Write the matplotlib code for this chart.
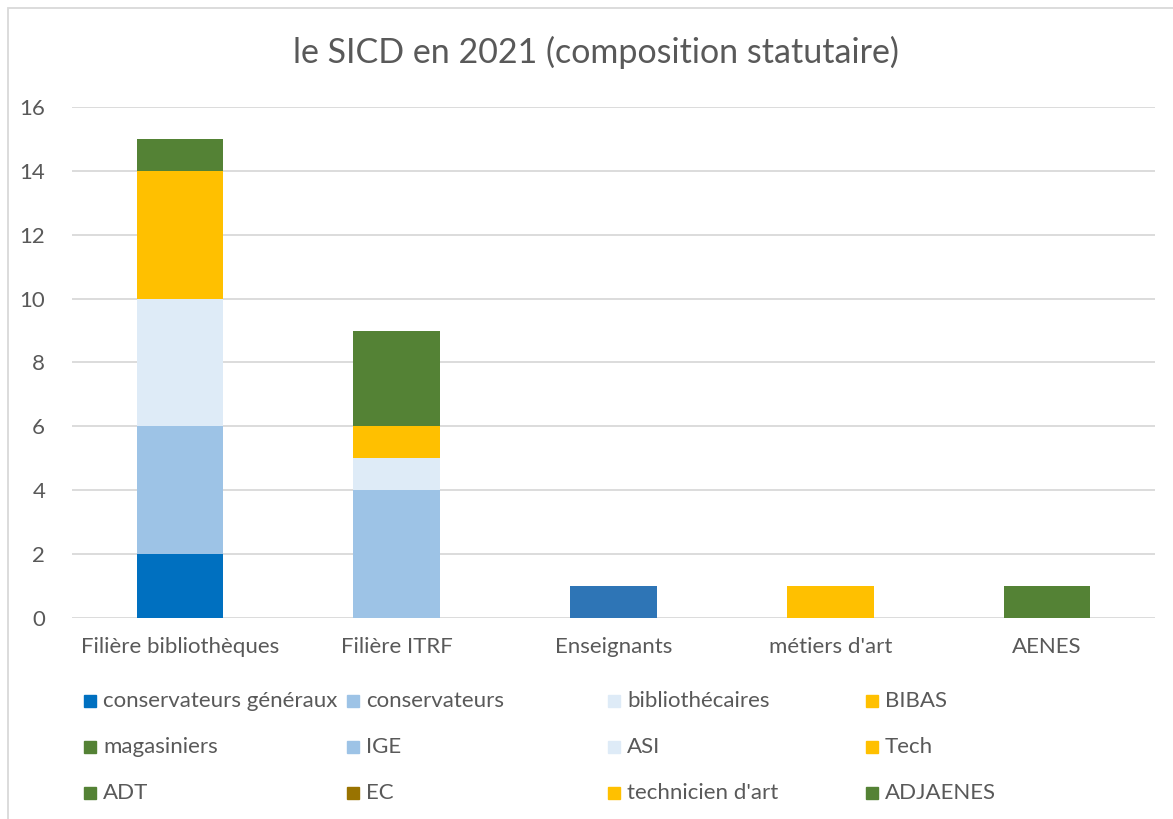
import matplotlib.pyplot as plt
from matplotlib.patches import Rectangle
import numpy as np

# catégories et séries
categories = ["Filière bibliothèques", "Filière ITRF", "Enseignants", "métiers d'art", "AENES"]
series = ["conservateurs généraux", "conservateurs", "bibliothécaires", "BIBAS",
          "magasiniers", "IGE", "ASI", "Tech", "ADT", "EC", "technicien d'art", "ADJAENES"]
valeurs = [
    [2, 0, 0, 0, 0],
    [4, 0, 0, 0, 0],
    [4, 0, 0, 0, 0],
    [4, 0, 0, 0, 0],
    [1, 0, 0, 0, 0],
    [0, 4, 0, 0, 0],
    [0, 1, 0, 0, 0],
    [0, 1, 0, 0, 0],
    [0, 3, 0, 0, 0],
    [0, 0, 0, 0, 0],
    [0, 0, 0, 1, 0],
    [0, 0, 0, 0, 1],
]
# série hors légende (enseignants)
enseignants = [0, 0, 1, 0, 0]

couleurs = ["#0070C0", "#9DC3E6", "#DEEBF7", "#FFC000",
            "#548235", "#9DC3E6", "#DEEBF7", "#FFC000",
            "#548235", "#997300", "#FFC000", "#548235"]

plt.rcParams['font.family'] = ['Lato', 'DejaVu Sans']
gris = "#595959"

fig = plt.figure(figsize=(11.73, 8.19), dpi=100)
ax = fig.add_axes([0.061, 0.2454, 0.924, 0.624])

x = np.arange(len(categories))
bas = np.zeros(len(categories))
for nom, vals, c in zip(series, valeurs, couleurs):
    ax.bar(x, vals, 0.4, bottom=bas, color=c, label=nom, zorder=3)
    bas += np.array(vals)
ax.bar(x, enseignants, 0.4, bottom=bas, color="#2E75B6", zorder=3)

ax.set_xlim(-0.5, len(categories) - 0.5)
ax.set_ylim(0, 16)
ax.set_yticks(np.arange(0, 17, 2))
ax.grid(axis='y', color="#D9D9D9", linewidth=1.3, zorder=0)
for s in ax.spines.values():
    s.set_visible(False)
ax.tick_params(length=0, colors=gris, labelsize=16)
ax.tick_params(axis='y', pad=19)
ax.tick_params(axis='x', pad=14)
ax.set_xticks(x)
ax.set_xticklabels(categories)

fig.text(0.508, 0.936, "le SICD en 2021 (composition statutaire)", ha='center', va='center',
         fontsize=24.5, color=gris)

# légende en grille 4 colonnes
col_x = [84, 347, 608, 866]
lig_y = [701, 747, 793]
for i, (nom, c) in enumerate(zip(series, couleurs)):
    px = col_x[i % 4]
    py = lig_y[i // 4]
    fig.patches.append(Rectangle((px / 1173, 1 - (py + 6) / 819), 12 / 1173, 12 / 819,
                                 transform=fig.transFigure, color=c, figure=fig))
    fig.text((px + 19) / 1173, 1 - py / 819, nom, ha='left', va='center',
             fontsize=16, color=gris)

# cadre du graphique
fig.patches.append(Rectangle((8 / 1173, -0.01), 1.1, 1 - 8 / 819 + 0.01, transform=fig.transFigure,
                             fill=False, edgecolor="#D9D9D9", linewidth=1.3, figure=fig))

fig.savefig("out.png", dpi=100)
